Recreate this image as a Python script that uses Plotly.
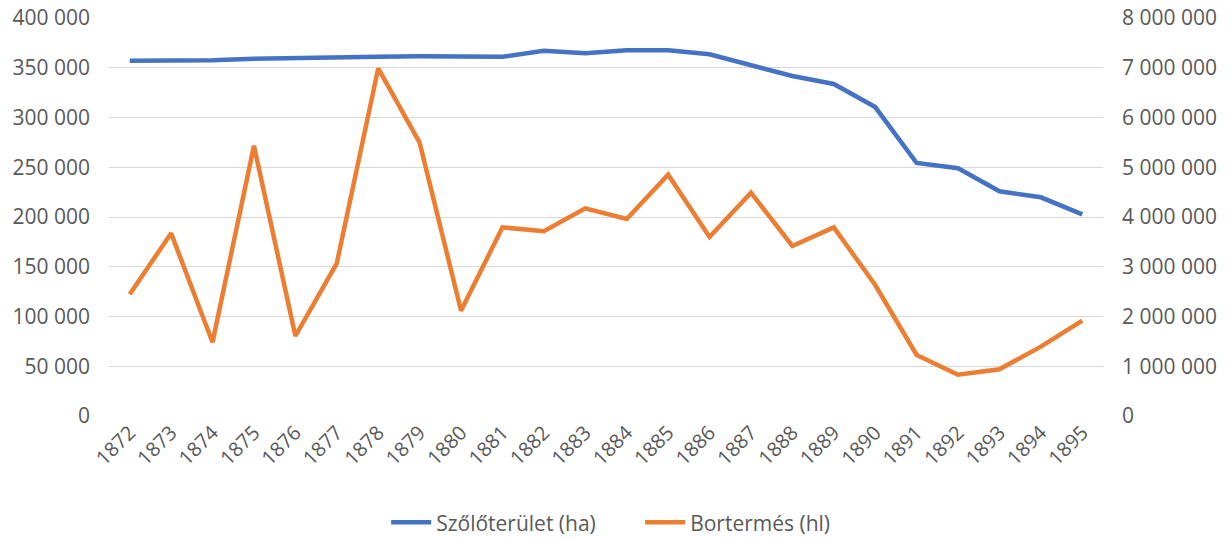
import plotly.graph_objects as go

years = [str(y) for y in range(1872, 1896)]
szolo_ha = [357000, 357000, 357500, 359000, 360000, 360000, 361000, 361500, 361500, 361000,
            367000, 364500, 367500, 367500, 363500, 352500, 341700, 333700, 310500, 254300,
            249000, 225800, 219800, 202700]
bor_hl = [2446000, 3672000, 1481000, 5434000, 1608000, 3069000, 6988000, 5494000, 2117000, 3792000,
          3714000, 4174000, 3960000, 4851000, 3598000, 4489000, 3417000, 3792000, 2633000, 1226000,
          830000, 938000, 1394000, 1916000]
left_ticks = [0, 50000, 100000, 150000, 200000, 250000, 300000, 350000, 400000]
right_ticks = [0, 1000000, 2000000, 3000000, 4000000, 5000000, 6000000, 7000000, 8000000]

FONT = "Open Sans"
GRAY = "#595959"

fig = go.Figure()
fig.add_trace(go.Scatter(x=years, y=szolo_ha, name="Szőlőterület (ha)", mode="lines",
                         line=dict(color="#4472C4", width=4.5), yaxis="y"))
fig.add_trace(go.Scatter(x=years, y=bor_hl, name="Bortermés (hl)", mode="lines",
                         line=dict(color="#ED7D31", width=4.5), yaxis="y2"))

fig.update_layout(
    width=1232, height=540,
    margin=dict(l=109, r=129, t=18, b=124, autoexpand=False),
    paper_bgcolor="white", plot_bgcolor="white",
    separators=", ",
    font=dict(family=FONT, size=20, color=GRAY),
    showlegend=True,
    legend=dict(orientation="h", x=0.5196, xanchor="center", xref="container",
                y=0.032, yanchor="middle", yref="container",
                font=dict(family=FONT, size=21, color=GRAY), itemwidth=40,
                entrywidth=199, entrywidthmode="pixels",
                traceorder="normal"),
    xaxis=dict(type="category", range=[-0.5, 23.5], tickangle=-45, showgrid=False,
               showline=False, zeroline=False, ticks="", automargin=False,
               tickfont=dict(family=FONT, size=20, color=GRAY)),
    yaxis=dict(range=[0, 400000], tickvals=left_ticks, tickformat=",d",
               showgrid=True, gridcolor="#D9D9D9", gridwidth=1.3, zeroline=False,
               showline=False, ticks="", ticklabelstandoff=18, automargin=False,
               tickfont=dict(family=FONT, size=21, color=GRAY)),
    yaxis2=dict(range=[0, 8000000], tickvals=right_ticks, tickformat=",d",
                overlaying="y", side="right", showgrid=False, zeroline=False,
                showline=False, ticks="", ticklabelstandoff=18, automargin=False,
                tickfont=dict(family=FONT, size=21, color=GRAY)),
)

fig.write_html("out.html", config={"displayModeBar": False},
               post_script="document.body.style.margin='0';")
